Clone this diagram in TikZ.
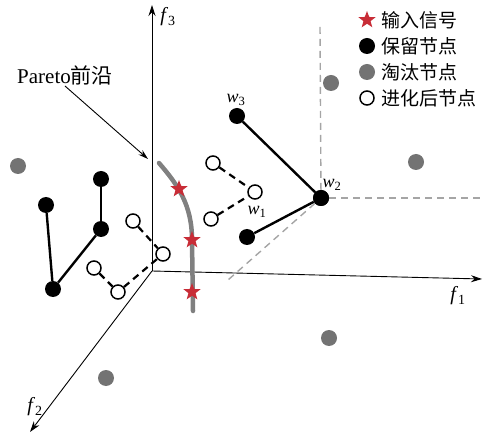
\documentclass[tikz,border=0pt]{standalone}
\usepackage{fontspec}
\setmainfont{Liberation Serif}
\newfontfamily\cjk{Noto Sans CJK SC}
\usetikzlibrary{arrows.meta,shapes.geometric}
\definecolor{starred}{RGB}{200,45,55}
\definecolor{dropgray}{RGB}{115,115,115}
\definecolor{curvegray}{RGB}{128,128,128}
\definecolor{dashgray}{RGB}{165,165,165}
\tikzset{
  axis/.style={line width=0.9pt,-{Stealth[length=11pt,width=7pt]}},
  keep/.style={circle,fill=black,inner sep=0pt,minimum size=16pt},
  drop/.style={circle,fill=dropgray,inner sep=0pt,minimum size=16pt},
  evo/.style={circle,draw=black,line width=1.5pt,fill=white,inner sep=0pt,minimum size=14pt},
  sig/.style={star,star points=5,star point ratio=2.4,fill=starred,inner sep=0pt,minimum size=18pt},
  keeplink/.style={line width=2.4pt},
  evolink/.style={line width=2.2pt,dash pattern=on 7pt off 5pt},
  guide/.style={dashgray,line width=1.4pt,dash pattern=on 7pt off 5pt},
  lbl/.style={font=\fontsize{20}{22}\selectfont,inner sep=0pt},
  wlbl/.style={font=\fontsize{18}{20}\selectfont,inner sep=0pt},
  leg/.style={font=\cjk\fontsize{19}{21}\selectfont,anchor=west,inner sep=0pt}
}
\begin{document}
\begin{tikzpicture}[x=1pt,y=-1pt]
\useasboundingbox (0,0) rectangle (500,435);
% guide dashed lines
\coordinate (gtop) at (320,25);
\coordinate (gright) at (482,198);
\coordinate (gdiag) at (228,280);
% axes
\coordinate (O) at (152,271);
\coordinate (f3end) at (152,5);
\coordinate (f1end) at (482,279);
\coordinate (f2end) at (30,432);
\draw[axis] (O) -- (f3end);
\draw[axis] (O) -- (f1end);
\draw[axis] (O) -- (f2end);
\node[lbl] (f3) at (168,17) {\textit{f}\textsubscript{3}};
\node[lbl] (f1) at (458,296) {\textit{f}\textsubscript{1}};
\node[lbl] (f2) at (35,407) {\textit{f}\textsubscript{2}};
% Pareto front
\draw[curvegray,line width=4.5pt,line cap=round] (159,163) .. controls (178,185) and (192,205) .. (192,240) -- (193,311);
\node[font=\fontsize{21}{23}\selectfont,inner sep=0pt,anchor=west] (pareto) at (17,75) {Pareto{\cjk 前沿}};
\coordinate (parrow) at (148,159);
\draw[line width=0.9pt,-{Stealth[length=10pt,width=6pt]}] (65,86) -- (parrow);
% nodes
\node[keep] (w3) at (237,116) {};
\node[keep] (w2) at (321,198) {};
\node[keep] (k3) at (247,237) {};
\node[keep] (a1) at (101,179) {};
\node[keep] (a2) at (101,229) {};
\node[keep] (a3) at (46,205) {};
\node[keep] (a4) at (53,289) {};
\draw[guide] (w2) -- (gtop);
\draw[guide] (w2) -- (gright);
\draw[guide] (w2) -- (gdiag);
\node[keep] at (w2) {};
\node[drop] (d1) at (18,166) {};
\node[drop] (d2) at (331,83) {};
\node[drop] (d3) at (416,162) {};
\node[drop] (d4) at (329,338) {};
\node[drop] (d5) at (106,378) {};
\node[evo] (e1) at (213,163) {};
\node[evo] (w1) at (255,192) {};
\node[evo] (e3) at (211,219) {};
\node[evo] (b1) at (133,221) {};
\node[evo] (b2) at (163,254) {};
\node[evo] (b3) at (94,268) {};
\node[evo] (b4) at (118,292) {};
% links
\draw[keeplink] (w3) -- (w2);
\draw[keeplink] (k3) -- (w2);
\draw[keeplink] (a3) -- (a4);
\draw[keeplink] (a4) -- (a2);
\draw[keeplink] (a2) -- (a1);
\draw[evolink] (e1) -- (w1);
\draw[evolink] (e3) -- (w1);
\draw[evolink] (b1) -- (b2);
\draw[evolink] (b3) -- (b4);
\draw[evolink] (b4) -- (b2);
% stars
\node[sig] (s1) at (179,189) {};
\node[sig] (s2) at (192,240) {};
\node[sig] (s3) at (192,292) {};
% w labels
\node[wlbl] (lw3) at (236,100) {\textit{w}\textsubscript{3}};
\node[wlbl] (lw2) at (332,185) {\textit{w}\textsubscript{2}};
\node[wlbl] (lw1) at (257,212) {\textit{w}\textsubscript{1}};
% legend
\node[sig] (m1) at (367,20) {};
\node[keep] (m2) at (367,46) {};
\node[drop] (m3) at (367,72) {};
\node[evo] (m4) at (367,98) {};
\node[leg] (t1) at (381,20) {输入信号};
\node[leg] (t2) at (381,46) {保留节点};
\node[leg] (t3) at (381,72) {淘汰节点};
\node[leg] (t4) at (381,98) {进化后节点};
\end{tikzpicture}
\end{document}
